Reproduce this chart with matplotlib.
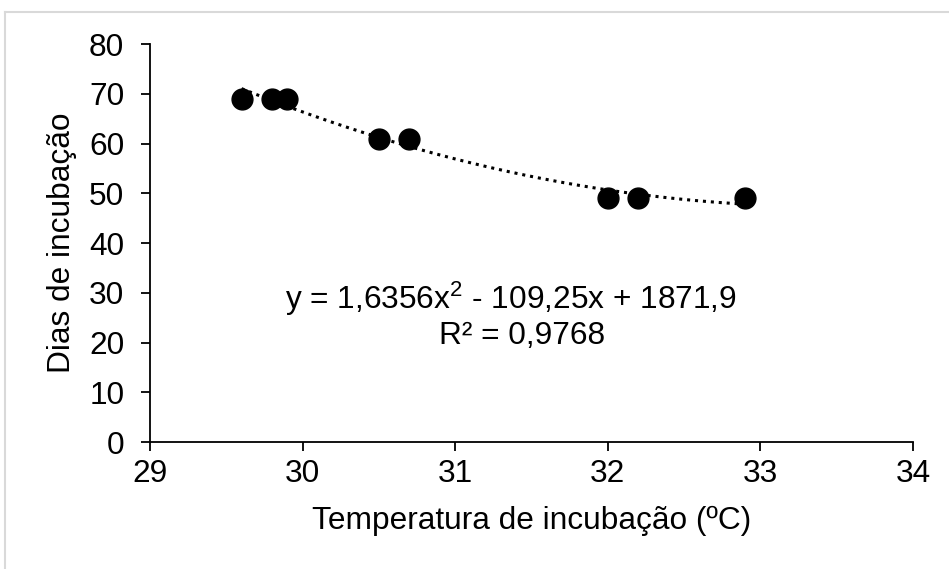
import numpy as np
import matplotlib.pyplot as plt
from matplotlib.lines import Line2D

plt.rcParams['font.family'] = ['Liberation Sans', 'DejaVu Sans']
plt.rcParams['mathtext.fontset'] = 'custom'
plt.rcParams['mathtext.rm'] = 'Liberation Sans'
plt.rcParams['mathtext.it'] = 'Liberation Sans'

# Dados
temperatura = [29.6, 29.8, 29.9, 30.5, 30.7, 32.0, 32.2, 32.9]
dias = [69, 69, 69, 61, 61, 49, 49, 49]
equacao = r'y = 1,6356x$^{2}$ - 109,25x + 1871,9'
r2 = 'R² = 0,9768'

# Linha de tendência polinomial (ordem 2)
coef = np.polyfit(temperatura, dias, 2)
xt = np.linspace(min(temperatura), max(temperatura), 200)
yt = np.polyval(coef, xt)

fs = 22.8
fig = plt.figure(figsize=(9.49, 5.69), dpi=100)
ax = fig.add_axes([150 / 949, 127 / 569, 763 / 949, 398 / 569])

ax.plot(xt, yt, color='black', linewidth=2.2, linestyle=(0, (1, 1.6)), zorder=2)
ax.scatter(temperatura, dias, s=225, color='black', zorder=3)

ax.set_xlim(29, 34)
ax.set_ylim(0, 80)
ax.set_xticks(range(29, 35))
ax.set_yticks(range(0, 81, 10))

for s in ['top', 'right']:
    ax.spines[s].set_visible(False)
for s in ['left', 'bottom']:
    ax.spines[s].set_linewidth(1.3)
ax.tick_params(direction='out', length=6.5, width=1.3, labelsize=fs)
ax.tick_params(axis='y', pad=12)
ax.tick_params(axis='x', pad=6)

# rótulos dos eixos
fig.text(532 / 949, 1 - 521 / 569, 'Temperatura de incubação (ºC)',
         fontsize=fs, ha='center', va='center')
fig.text(62 / 949, 1 - 243 / 569, 'Dias de incubação', rotation=90,
         fontsize=fs, ha='center', va='center')

# equação da tendência
ax.text(0.473, 0.334, equacao, transform=ax.transAxes, ha='center', va='baseline', fontsize=fs)
ax.text(0.487, 0.246, r2, transform=ax.transAxes, ha='center', va='baseline', fontsize=fs)

# borda do gráfico
x0 = 5 / 949
y0 = 1 - 12 / 569
fig.add_artist(Line2D([x0, x0], [0, y0], color='#d9d9d9', linewidth=1.5, transform=fig.transFigure))
fig.add_artist(Line2D([x0, 1], [y0, y0], color='#d9d9d9', linewidth=1.5, transform=fig.transFigure))

fig.savefig('out.png', dpi=100)
